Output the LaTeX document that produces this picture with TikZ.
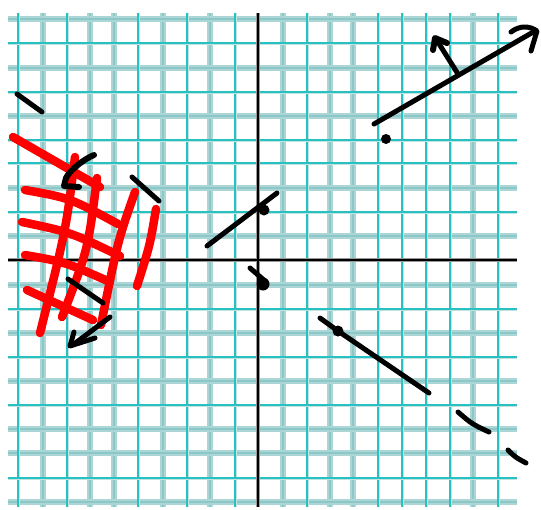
\documentclass[tikz,border=0pt]{standalone}
\begin{document}
\begin{tikzpicture}[x=1pt,y=-1pt,
  gb/.style={line width=5.5pt, color={rgb,255:red,172;green,214;blue,214}},
  gbc/.style={line width=1.6pt, color={rgb,255:red,140;green,200;blue,200}},
  gs/.style={line width=3pt, color={rgb,255:red,190;green,228;blue,228}},
  gsc/.style={line width=1.8pt, color={rgb,255:red,40;green,192;blue,192}},
  ink/.style={line width=5pt, line cap=round, line join=round, black},
  redink/.style={line width=8.5pt, line cap=round, line join=round, color={rgb,255:red,255;green,0;blue,0}},
  dotb/.style={fill=black}]
\useasboundingbox (0,0) rectangle (541,509);
\fill[white] (0,0) rectangle (541,509);
% grid: blurry lines
\foreach \x in {43,90,114,163,210,283,330,353,473} {\draw[gb] (\x,13) -- (\x,507); \draw[gbc] (\x,13) -- (\x,507);}
\foreach \y in {19,68,116,188,236,285,333,381,429,453,502} {\draw[gb] (8,\y) -- (517,\y); \draw[gbc] (8,\y) -- (517,\y);}
% grid: sharp lines
\foreach \x in {18,67,138,187,235,307,378,402,426,450,498} {\draw[gs] (\x,13) -- (\x,507); \draw[gsc] (\x,13) -- (\x,507);}
\foreach \y in {43,92,140,163,212,309,357,405,478} {\draw[gs] (8,\y) -- (517,\y); \draw[gsc] (8,\y) -- (517,\y);}
% axes
\draw[line width=4.5pt, black!40] (258,13) -- (258,507);
\draw[line width=4.5pt, black!40] (8,260) -- (517,260);
\draw[line width=2.2pt, black] (258,13) -- (258,507);
\draw[line width=2.2pt, black] (8,260) -- (517,260);
% red hatching
\draw[redink] (13,137) -- (100,187);
\draw[redink] (25,190) .. controls (70,198) .. (118,224);
\draw[redink] (22,222) .. controls (70,232) .. (120,256);
\draw[redink] (25,255) .. controls (65,262) .. (110,282);
\draw[redink] (27,290) -- (93,320);
\draw[redink] (75,157) .. controls (66,230) .. (40,333);
\draw[redink] (97,178) .. controls (88,250) .. (62,317);
\draw[redink] (135,192) .. controls (118,240) .. (101,325);
\draw[redink] (156,209) .. controls (150,245) .. (137,286);
% black strokes
\draw[ink] (17,94) -- (42,112);
\draw[ink] (132,177) -- (159,201);
\draw[ink, line width=6pt] (94,155) .. controls (84,159) and (70,170) .. (66,178) -- (64,186) -- (79,187);
\draw[ink] (68,279) -- (103,303);
\draw[ink] (110,317) -- (74,344);
\draw[ink] (74,332) -- (70,346) -- (95,338);
\draw[ink] (207,246) -- (277,193);
\fill[dotb] (264,210) circle (5.5pt);
\draw[ink] (250,268) -- (265,281);
\fill[dotb] (263,284) circle (6.5pt);
\draw[ink] (320,318) -- (338,331) -- (429,393);
\fill[dotb] (338,331) circle (5.5pt);
\draw[ink] (458,412) .. controls (472,424) .. (489,432);
\draw[ink] (508,450) .. controls (515,457) .. (526,463);
\draw[ink] (374,124) -- (535,31);
\draw[ink] (511,32) .. controls (520,25) and (530,26) .. (537,31) -- (531,51);
\draw[ink] (458,74) -- (436,39);
\draw[ink, line width=6pt] (433,50) -- (435,38) -- (447,43);
\fill[dotb] (386,139) circle (5pt);
\end{tikzpicture}
\end{document}
